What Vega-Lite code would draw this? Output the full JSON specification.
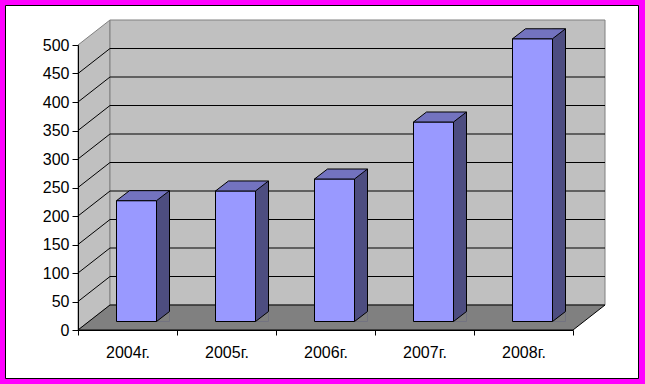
{
  "$schema": "https://vega.github.io/schema/vega-lite/v6.json",
  "width": 495,
  "height": 285,
  "autosize": {"type": "none"},
  "padding": {"left": 78, "top": 45, "right": 72, "bottom": 54},
  "background": "#FF00FF",
  "config": {
    "view": {"stroke": null},
    "font": "Liberation Sans",
    "axis": {"titleOpacity": 0, "grid": false},
    "axisX": {"tickBand": "extent", "tickSize": 5, "labelPadding": 9, "labelFontSize": 16, "labelFont": "Liberation Sans", "labelColor": "black", "tickColor": "black", "domainColor": "black", "labelAngle": 0},
    "axisY": {"tickCount": 10, "tickSize": 6, "labelPadding": 3, "labelFontSize": 16, "labelFont": "Liberation Sans", "labelColor": "black", "tickColor": "black", "domainColor": "black"}
  },
  "datasets": {
    "sales": [
      {"year": "2004г.", "value": 212},
      {"year": "2005г.", "value": 229},
      {"year": "2006г.", "value": 250},
      {"year": "2007г.", "value": 350},
      {"year": "2008г.", "value": 496}
    ],
    "ticks": [{"v": 50}, {"v": 100}, {"v": 150}, {"v": 200}, {"v": 250}, {"v": 300}, {"v": 350}, {"v": 400}, {"v": 450}],
    "one": [{"k": 1}]
  },
  "layer": [
    {
      "data": {"name": "one"},
      "mark": {"type": "point", "shape": "M-122,-324.5L511,-324.5L511,48.5L-122,48.5Z", "size": 4, "filled": true, "fill": "white", "stroke": "black", "strokeWidth": 1, "opacity": 1},
      "encoding": {
        "x": {"datum": "2004г.", "type": "ordinal", "title": null, "axis": {"zindex": 1}, "scale": {"type": "band", "domain": ["2004г.", "2005г.", "2006г.", "2007г.", "2008г."], "paddingInner": 0, "paddingOuter": 0}},
        "y": {"datum": 0, "type": "quantitative", "title": null, "axis": {"zindex": 1}, "scale": {"domain": [0, 500], "nice": false, "zero": true}}
      }
    },
    {
      "data": {"name": "one"},
      "mark": {"type": "point", "shape": "M-49.5,0L-49.5,-285L-17.5,-310L-17.5,-25Z", "size": 4, "filled": true, "fill": "#C0C0C0", "stroke": "#808080", "strokeWidth": 1, "opacity": 1},
      "encoding": {
        "x": {"datum": "2004г.", "type": "ordinal", "title": null},
        "y": {"datum": 0, "type": "quantitative", "title": null}
      }
    },
    {
      "data": {"name": "one"},
      "mark": {"type": "point", "shape": "M-17.5,-310L477.5,-310L477.5,-25L-17.5,-25Z", "size": 4, "filled": true, "fill": "#C0C0C0", "stroke": "#808080", "strokeWidth": 1, "opacity": 1},
      "encoding": {
        "x": {"datum": "2004г.", "type": "ordinal", "title": null},
        "y": {"datum": 0, "type": "quantitative", "title": null}
      }
    },
    {
      "data": {"name": "ticks"},
      "mark": {"type": "point", "shape": "M-49.5,0L-17.5,-25L477.5,-25", "size": 4, "filled": false, "stroke": "black", "strokeWidth": 1, "opacity": 1},
      "encoding": {
        "x": {"datum": "2004г.", "type": "ordinal", "title": null},
        "y": {"field": "v", "type": "quantitative", "title": null}
      }
    },
    {
      "data": {"name": "one"},
      "mark": {"type": "point", "shape": "M-49.5,0L445.5,0L477.5,-25L-17.5,-25Z", "size": 4, "filled": true, "fill": "#808080", "stroke": "black", "strokeWidth": 1, "opacity": 1},
      "encoding": {
        "x": {"datum": "2004г.", "type": "ordinal", "title": null},
        "y": {"datum": 0, "type": "quantitative", "title": null}
      }
    },
    {
      "data": {"name": "sales"},
      "mark": {"type": "bar", "width": 13, "xOffset": 35.5, "yOffset": -18.5, "y2Offset": -8.5, "fill": "#4D4D80", "strokeWidth": 0, "opacity": 1},
      "encoding": {
        "x": {"field": "year", "type": "ordinal", "title": null},
        "y": {"field": "value", "type": "quantitative", "title": null},
        "y2": {"datum": 0}
      }
    },
    {
      "data": {"name": "sales"},
      "mark": {"type": "point", "shape": "M29,-8.5L42,-8.5L42,-18.5Z", "size": 4, "filled": true, "fill": "#808080", "strokeWidth": 0, "opacity": 1},
      "encoding": {
        "x": {"field": "year", "type": "ordinal", "title": null},
        "y": {"datum": 0, "type": "quantitative", "title": null}
      }
    },
    {
      "data": {"name": "sales"},
      "mark": {"type": "bar", "width": 40, "xOffset": 9, "yOffset": -8.5, "y2Offset": -8.5, "fill": "#9999FF", "stroke": "black", "strokeWidth": 1, "opacity": 1},
      "encoding": {
        "x": {"field": "year", "type": "ordinal", "title": null},
        "y": {"field": "value", "type": "quantitative", "title": null},
        "y2": {"datum": 0}
      }
    },
    {
      "data": {"name": "sales"},
      "mark": {"type": "point", "shape": "M-11,-8.5L29,-8.5L42,-18.5L2,-18.5Z", "size": 4, "filled": true, "fill": "#7373BF", "stroke": "black", "strokeWidth": 1, "opacity": 1},
      "encoding": {
        "x": {"field": "year", "type": "ordinal", "title": null},
        "y": {"field": "value", "type": "quantitative", "title": null}
      }
    },
    {
      "data": {"name": "sales"},
      "mark": {"type": "point", "shape": "M29,-8.5L42,-18.5", "size": 4, "filled": false, "stroke": "black", "strokeWidth": 1, "opacity": 1},
      "encoding": {
        "x": {"field": "year", "type": "ordinal", "title": null},
        "y": {"datum": 0, "type": "quantitative", "title": null}
      }
    },
    {
      "data": {"name": "sales"},
      "mark": {"type": "rule", "xOffset": 42, "yOffset": -18.5, "y2Offset": -18.5, "stroke": "black", "strokeWidth": 1, "opacity": 1},
      "encoding": {
        "x": {"field": "year", "type": "ordinal", "title": null},
        "y": {"field": "value", "type": "quantitative", "title": null},
        "y2": {"datum": 0}
      }
    }
  ]
}
